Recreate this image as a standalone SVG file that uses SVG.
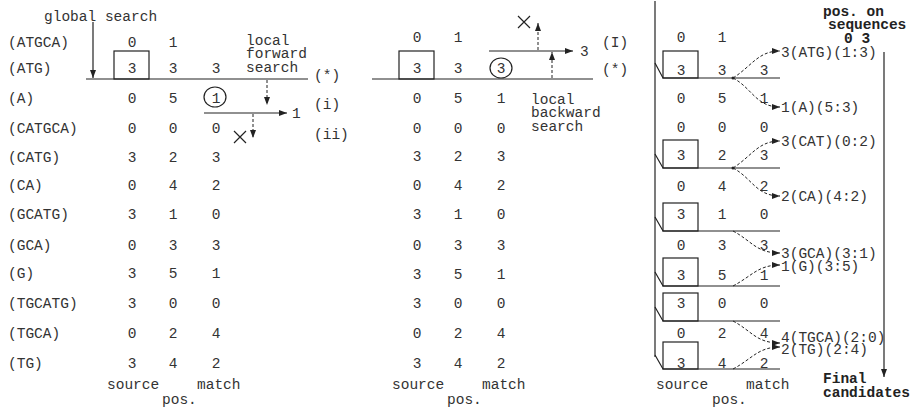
<svg xmlns="http://www.w3.org/2000/svg" width="913" height="409" viewBox="0 0 913 409">
<style>
text{font-family:"Liberation Mono","Courier New",monospace;font-size:14.5px;fill:#333}
.c{text-anchor:middle}
.b{font-weight:bold;fill:#222}
.ln{stroke:#222;stroke-width:1.2;fill:none}
.bx{stroke:#222;stroke-width:1.2;fill:none}
.ds{stroke:#222;stroke-width:1;fill:none;stroke-dasharray:3,2}
</style>
<defs>
<marker id="ah" viewBox="0 0 8 6" refX="8" refY="3" markerWidth="8" markerHeight="6" markerUnits="userSpaceOnUse" orient="auto">
<path d="M0,0 L8,3 L0,6 z" fill="#222"/>
</marker>
</defs>
<rect width="913" height="409" fill="#fff"/>

<g id="left-panel">
<text x="44" y="21">global search</text>
<text x="8" y="47">(ATGCA)</text>
<text x="8" y="73">(ATG)</text>
<text x="8" y="103">(A)</text>
<text x="8" y="133">(CATGCA)</text>
<text x="8" y="162">(CATG)</text>
<text x="8" y="190">(CA)</text>
<text x="8" y="219">(GCATG)</text>
<text x="8" y="250">(GCA)</text>
<text x="8" y="278">(G)</text>
<text x="8" y="308">(TGCATG)</text>
<text x="8" y="338">(TGCA)</text>
<text x="8" y="368">(TG)</text>
<g class="c">
<text x="132" y="47">0</text><text x="173" y="47">1</text>
<text x="132" y="73">3</text><text x="173" y="73">3</text><text x="216" y="73">3</text>
<text x="132" y="103">0</text><text x="173" y="103">5</text><text x="216" y="103">1</text>
<text x="132" y="133">0</text><text x="173" y="133">0</text><text x="216" y="133">0</text>
<text x="132" y="162">3</text><text x="173" y="162">2</text><text x="216" y="162">3</text>
<text x="132" y="190">0</text><text x="173" y="190">4</text><text x="216" y="190">2</text>
<text x="132" y="219">3</text><text x="173" y="219">1</text><text x="216" y="219">0</text>
<text x="132" y="250">0</text><text x="173" y="250">3</text><text x="216" y="250">3</text>
<text x="132" y="278">3</text><text x="173" y="278">5</text><text x="216" y="278">1</text>
<text x="132" y="308">3</text><text x="173" y="308">0</text><text x="216" y="308">0</text>
<text x="132" y="338">0</text><text x="173" y="338">2</text><text x="216" y="338">4</text>
<text x="132" y="368">3</text><text x="173" y="368">4</text><text x="216" y="368">2</text>
</g>
<rect class="bx" x="114" y="51" width="35" height="28"/>
<ellipse class="bx" cx="215" cy="97" rx="11" ry="10"/>
<text x="246" y="45">local</text>
<text x="246" y="58">forward</text>
<text x="246" y="72">search</text>
<text x="314" y="80">(*)</text>
<text x="314" y="109">(i)</text>
<text x="314" y="139">(ii)</text>
<text x="292" y="118">1</text>
<text x="107" y="389">source</text>
<text x="197" y="389">match</text>
<text x="162" y="404">pos.</text>
<path class="ln" d="M234,143 l12,-12 M234,131 l12,12"/>
</g>

<g id="middle-panel">
<g class="c">
<text x="417" y="42">0</text><text x="458" y="42">1</text>
<text x="417" y="73">3</text><text x="458" y="73">3</text><text x="501" y="73">3</text>
<text x="417" y="103">0</text><text x="458" y="103">5</text><text x="501" y="103">1</text>
<text x="417" y="133">0</text><text x="458" y="133">0</text><text x="501" y="133">0</text>
<text x="417" y="161">3</text><text x="458" y="161">2</text><text x="501" y="161">3</text>
<text x="417" y="190">0</text><text x="458" y="190">4</text><text x="501" y="190">2</text>
<text x="417" y="219">3</text><text x="458" y="219">1</text><text x="501" y="219">0</text>
<text x="417" y="250">0</text><text x="458" y="250">3</text><text x="501" y="250">3</text>
<text x="417" y="279">3</text><text x="458" y="279">5</text><text x="501" y="279">1</text>
<text x="417" y="308">3</text><text x="458" y="308">0</text><text x="501" y="308">0</text>
<text x="417" y="338">0</text><text x="458" y="338">2</text><text x="501" y="338">4</text>
<text x="417" y="368">3</text><text x="458" y="368">4</text><text x="501" y="368">2</text>
</g>
<rect class="bx" x="399" y="51" width="35" height="28"/>
<ellipse class="bx" cx="501" cy="68" rx="11" ry="10"/>
<text x="580" y="56">3</text>
<text x="602" y="47">(I)</text>
<text x="602" y="74">(*)</text>
<text x="531" y="104">local</text>
<text x="531" y="117">backward</text>
<text x="531" y="131">search</text>
<text x="392" y="389">source</text>
<text x="482" y="389">match</text>
<text x="447" y="404">pos.</text>
<path class="ln" d="M518,28 l12,-12 M518,16 l12,12"/>
</g>

<g id="right-panel">
<g class="c">
<text x="681" y="42">0</text><text x="722" y="42">1</text>
<text x="681" y="75">3</text><text x="722" y="75">3</text><text x="764" y="75">3</text>
<text x="681" y="103">0</text><text x="722" y="103">5</text><text x="764" y="103">1</text>
<text x="681" y="132">0</text><text x="722" y="132">0</text><text x="764" y="132">0</text>
<text x="681" y="160">3</text><text x="722" y="160">2</text><text x="764" y="160">3</text>
<text x="681" y="191">0</text><text x="722" y="191">4</text><text x="764" y="191">2</text>
<text x="681" y="219">3</text><text x="722" y="219">1</text><text x="764" y="219">0</text>
<text x="681" y="250">0</text><text x="722" y="250">3</text><text x="764" y="250">3</text>
<text x="681" y="280">3</text><text x="722" y="280">5</text><text x="764" y="280">1</text>
<text x="681" y="308">3</text><text x="722" y="308">0</text><text x="764" y="308">0</text>
<text x="681" y="338">0</text><text x="722" y="338">2</text><text x="764" y="338">4</text>
<text x="681" y="368">3</text><text x="722" y="368">4</text><text x="764" y="368">2</text>
</g>
<rect class="bx" x="663" y="51" width="35" height="27"/>
<rect class="bx" x="663" y="140" width="35" height="28"/>
<rect class="bx" x="663" y="203" width="35" height="28"/>
<rect class="bx" x="663" y="258" width="35" height="28"/>
<rect class="bx" x="663" y="293" width="35" height="28"/>
<rect class="bx" x="663" y="342" width="35" height="27"/>
<text class="b" x="823" y="16">pos. on</text>
<text class="b" x="828" y="29">sequences</text>
<text class="b" x="844" y="43">0 3</text>
<text x="781" y="57">3(ATG)(1:3)</text>
<text x="781" y="112">1(A)(5:3)</text>
<text x="781" y="146">3(CAT)(0:2)</text>
<text x="781" y="201">2(CA)(4:2)</text>
<text x="781" y="258">3(GCA)(3:1)</text>
<text x="781" y="271">1(G)(3:5)</text>
<text x="781" y="342">4(TGCA)(2:0)</text>
<text x="781" y="354">2(TG)(2:4)</text>
<text class="b" x="823" y="383">Final</text>
<text class="b" x="823" y="397">candidates</text>
<text x="656" y="389">source</text>
<text x="746" y="389">match</text>
<text x="712" y="404">pos.</text>
</g>

<g id="connectors">
<path class="ln" d="M93,22 V78" marker-end="url(#ah)"/>
<path class="ln" d="M86,79 H308"/>
<path class="ds" d="M267,80 V105" marker-end="url(#ah)"/>
<path class="ln" d="M204,113 H287" marker-end="url(#ah)"/>
<path class="ds" d="M253,114 V138" marker-end="url(#ah)"/>
<path class="ln" d="M372,79 H593"/>
<path class="ln" d="M489,51 H573" marker-end="url(#ah)"/>
<path class="ds" d="M552,78 V52" marker-end="url(#ah)"/>
<path class="ds" d="M538,50 V23" marker-end="url(#ah)"/>
<path class="ln" d="M655,1 V357"/>
<path class="ln" d="M655,63 L663,78 H780"/>
<path class="ln" d="M655,154 L663,168 H780"/>
<path class="ln" d="M655,217 L663,231 H780"/>
<path class="ln" d="M655,272 L663,286 H780"/>
<path class="ln" d="M655,307 L663,321 H780"/>
<path class="ln" d="M655,355 L663,369 H780"/>
<path class="ln" d="M884,52 V377" marker-end="url(#ah)"/>
<circle cx="733" cy="78" r="1.5" fill="#222"/>
<circle cx="733" cy="168" r="1.5" fill="#222"/>
<path class="ds" d="M733,78 C752,66 758,51 780,51" marker-end="url(#ah)"/>
<path class="ds" d="M733,78 C752,88 756,107 780,107" marker-end="url(#ah)"/>
<path class="ds" d="M733,168 C752,156 758,141 780,141" marker-end="url(#ah)"/>
<path class="ds" d="M733,168 C752,178 756,196 780,196" marker-end="url(#ah)"/>
<path class="ds" d="M733,231 C752,241 756,253 780,253" marker-end="url(#ah)"/>
<path class="ds" d="M733,286 C752,276 758,265 780,265" marker-end="url(#ah)"/>
<path class="ds" d="M733,321 C752,331 756,343 780,343" marker-end="url(#ah)"/>
<path class="ds" d="M733,369 C752,359 758,347 780,347" marker-end="url(#ah)"/>
</g>
</svg>
